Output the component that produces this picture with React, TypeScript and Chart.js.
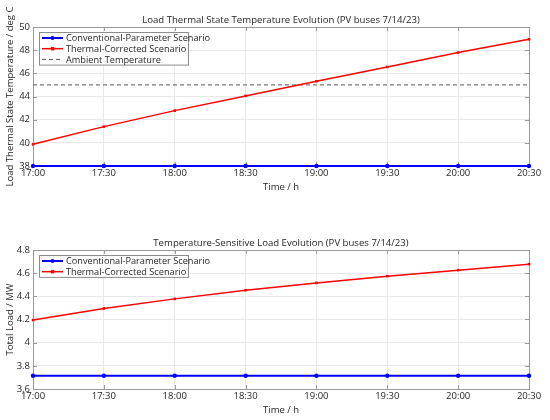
import React, { useEffect, useRef } from "react";
import { Chart, registerables } from "chart.js";

Chart.register(...registerables);

const timeLabels = ["17:00", "17:30", "18:00", "18:30", "19:00", "19:30", "20:00", "20:30"];
const tempConventional = [38, 38, 38, 38, 38, 38, 38, 38];
const tempCorrected = [39.87, 41.4, 42.78, 44.05, 45.31, 46.55, 47.79, 48.94];
const tempAmbient = [45, 45, 45, 45, 45, 45, 45, 45];
const loadConventional = [3.715, 3.715, 3.715, 3.715, 3.715, 3.715, 3.715, 3.715];
const loadCorrected = [4.195, 4.295, 4.378, 4.453, 4.516, 4.574, 4.626, 4.678];

const topTitle = "Load Thermal State Temperature Evolution (PV buses 7/14/23)";
const bottomTitle = "Temperature-Sensitive Load Evolution (PV buses 7/14/23)";

const FONT = "'Open Sans', 'Noto Sans', sans-serif";
const TEXT = "#262626";

const boxPlugin = {
  id: "boxPlugin",
  beforeDatasetsDraw(chart: any) {
    const { ctx, chartArea } = chart;
    ctx.save();
    ctx.strokeStyle = "#9a9a9a";
    ctx.lineWidth = 1;
    ctx.strokeRect(
      Math.round(chartArea.left) + 0.5,
      Math.round(chartArea.top) + 0.5,
      Math.round(chartArea.right - chartArea.left),
      Math.round(chartArea.bottom - chartArea.top)
    );
    const ys = chart.scales.y;
    ys.ticks.forEach((_t: any, i: number) => {
      const py = Math.round(ys.getPixelForTick(i)) + 0.5;
      ctx.beginPath();
      ctx.moveTo(chartArea.left, py);
      ctx.lineTo(chartArea.left + 4, py);
      ctx.moveTo(chartArea.right, py);
      ctx.lineTo(chartArea.right - 4, py);
      ctx.stroke();
    });
    const xs = chart.scales.x;
    xs.ticks.forEach((_t: any, i: number) => {
      const px = Math.round(xs.getPixelForTick(i)) + 0.5;
      ctx.beginPath();
      ctx.moveTo(px, chartArea.bottom);
      ctx.lineTo(px, chartArea.bottom - 4);
      ctx.moveTo(px, chartArea.top);
      ctx.lineTo(px, chartArea.top + 4);
      ctx.stroke();
    });
    ctx.restore();
  },
  afterDraw(chart: any) {
    const { ctx, chartArea } = chart;
    const t = chart.options.plugins.axTitle;
    if (!t) return;
    ctx.save();
    ctx.font = `9.6px ${FONT}`;
    ctx.fillStyle = TEXT;
    ctx.textAlign = "center";
    ctx.textBaseline = "middle";
    ctx.fillText(t.text, (chartArea.left + chartArea.right) / 2, chartArea.top - 7);
    ctx.restore();
  },
};

const legendPlugin = {
  id: "boxLegend",
  afterDraw(chart: any) {
    const { ctx, chartArea } = chart;
    const sets = chart.data.datasets;
    const x0 = chartArea.left + 6;
    const y0 = chartArea.top + 5;
    const rowH = 10.7;
    const w = 149;
    const h = sets.length * rowH + 0.5;
    ctx.save();
    ctx.fillStyle = "#ffffff";
    ctx.fillRect(x0, y0, w, h);
    ctx.strokeStyle = "#8c8c8c";
    ctx.lineWidth = 1;
    ctx.strokeRect(Math.round(x0) + 0.5, Math.round(y0) + 0.5, w, h);
    ctx.font = `9.2px ${FONT}`;
    ctx.textBaseline = "middle";
    sets.forEach((ds: any, i: number) => {
      const cy = y0 + 6 + i * rowH;
      ctx.strokeStyle = ds.borderColor;
      ctx.lineWidth = ds.borderWidth;
      ctx.setLineDash(ds.borderDash || []);
      ctx.beginPath();
      ctx.moveTo(x0 + 3, cy);
      ctx.lineTo(x0 + 24, cy);
      ctx.stroke();
      ctx.setLineDash([]);
      if (ds.pointRadius > 0) {
        ctx.fillStyle = ds.borderColor;
        const mx = x0 + 13.5;
        if (ds.pointStyle === "rect") {
          ctx.fillRect(mx - 1.7, cy - 1.7, 3.4, 3.4);
        } else {
          ctx.beginPath();
          ctx.arc(mx, cy, 2, 0, Math.PI * 2);
          ctx.fill();
        }
      }
      ctx.fillStyle = TEXT;
      ctx.fillText(ds.label, x0 + 27, cy + 0.5);
    });
    ctx.restore();
  },
};

function makeOptions(title: string, yTitle: string, yMin: number, yMax: number, yStep: number, topPad: number, bottomPad: number) {
  return {
    responsive: false,
    animation: false as const,
    layout: { padding: { left: 0, right: 21, top: topPad, bottom: bottomPad } },
    plugins: {
      legend: { display: false },
      tooltip: { enabled: false },
      title: { display: false },
      axTitle: { text: title },
    },
    scales: {
      x: {
        type: "category" as const,
        offset: false,
        grid: { color: "#e8e8e8", drawTicks: false },
        border: { display: false },
        ticks: { color: TEXT, font: { family: FONT, size: 9.5 }, padding: 2, maxRotation: 0, autoSkip: false },
        title: { display: true, text: "Time / h", color: TEXT, font: { family: FONT, size: 9.5 }, padding: { top: 0, bottom: 1 } },
        afterFit(scale: any) {
          scale.height = 28;
        },
      },
      y: {
        min: yMin,
        max: yMax,
        grid: { color: "#e8e8e8", drawTicks: false },
        border: { display: false },
        ticks: {
          stepSize: yStep,
          color: TEXT,
          font: { family: FONT, size: 9.5 },
          padding: 3,
          callback: (v: any) => String(Number(Number(v).toFixed(2))),
        },
        title: { display: true, text: yTitle, color: TEXT, font: { family: FONT, size: 9.5 }, padding: { top: 5, bottom: 0 } },
        afterFit(scale: any) {
          scale.width = 33;
        },
      },
    },
  };
}

function TopChart() {
  const ref = useRef<HTMLCanvasElement | null>(null);
  useEffect(() => {
    if (!ref.current) return;
    const chart = new Chart(ref.current, {
      type: "line",
      data: {
        labels: timeLabels,
        datasets: [
          {
            label: "Conventional-Parameter Scenario",
            data: tempConventional,
            borderColor: "#0000ff",
            backgroundColor: "#0000ff",
            borderWidth: 2,
            pointStyle: "circle",
            pointRadius: 2.2,
            pointBorderWidth: 0,
            clip: 4,
          },
          {
            label: "Thermal-Corrected Scenario",
            data: tempCorrected,
            borderColor: "#ff0000",
            backgroundColor: "#ff0000",
            borderWidth: 1.5,
            pointStyle: "rect",
            pointRadius: 1.8,
            pointBorderWidth: 0,
            clip: 4,
          },
          {
            label: "Ambient Temperature",
            data: tempAmbient,
            borderColor: "#555555",
            backgroundColor: "#555555",
            borderWidth: 1,
            borderDash: [4, 3],
            pointRadius: 0,
          },
        ] as any,
      },
      options: makeOptions(topTitle, "Load Thermal State Temperature / deg C", 38, 50, 2, 27, 16) as any,
      plugins: [boxPlugin, legendPlugin],
    });
    return () => chart.destroy();
  }, []);
  return <canvas ref={ref} width={550} height={210} style={{ display: "block" }} />;
}

function BottomChart() {
  const ref = useRef<HTMLCanvasElement | null>(null);
  useEffect(() => {
    if (!ref.current) return;
    const chart = new Chart(ref.current, {
      type: "line",
      data: {
        labels: timeLabels,
        datasets: [
          {
            label: "Conventional-Parameter Scenario",
            data: loadConventional,
            borderColor: "#0000ff",
            backgroundColor: "#0000ff",
            borderWidth: 2,
            pointStyle: "circle",
            pointRadius: 2.2,
            pointBorderWidth: 0,
            clip: 4,
          },
          {
            label: "Thermal-Corrected Scenario",
            data: loadCorrected,
            borderColor: "#ff0000",
            backgroundColor: "#ff0000",
            borderWidth: 1.5,
            pointStyle: "rect",
            pointRadius: 1.8,
            pointBorderWidth: 0,
            clip: 4,
          },
        ] as any,
      },
      options: makeOptions(bottomTitle, "Total Load / MW", 3.6, 4.8, 0.2, 40, 3) as any,
      plugins: [boxPlugin, legendPlugin],
    });
    return () => chart.destroy();
  }, []);
  return <canvas ref={ref} width={550} height={210} style={{ display: "block" }} />;
}

export default function App() {
  return (
    <div style={{ position: "fixed", left: 0, top: 0, width: 550, height: 420, background: "#ffffff" }}>
      <TopChart />
      <BottomChart />
    </div>
  );
}
